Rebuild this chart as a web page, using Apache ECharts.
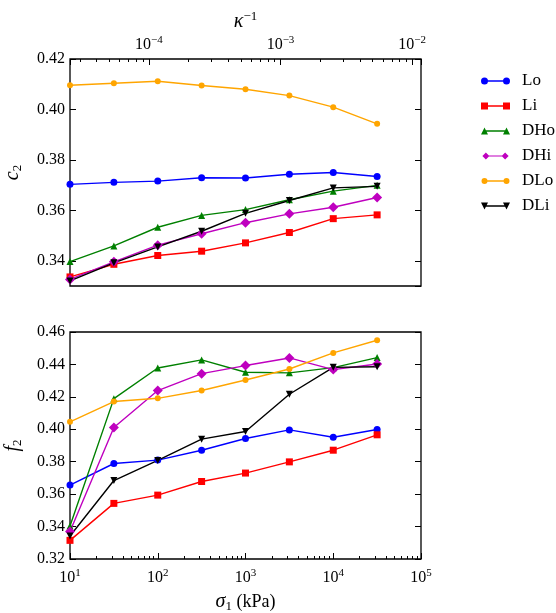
<!DOCTYPE html>
<html>
<head>
<meta charset="utf-8">
<title>c2 f2 vs sigma1</title>
<script src="https://cdn.jsdelivr.net/npm/echarts@6/dist/echarts.min.js"></script>
</head>
<body style="margin:0;background:#fff">
<div id="main" style="width:556px;height:613px"></div>
<script>
// sigma_1 (kPa), same points in both panels
var sigma = [10, 31.62, 100, 316.2, 1000, 3162, 10000, 31620];
var names = ['Lo', 'Li', 'DHo', 'DHi', 'DLo', 'DLi'];

// top panel: c2
var c2Lo  = [0.3703, 0.3711, 0.3716, 0.3729, 0.3728, 0.3743, 0.3750, 0.3734];
var c2Li  = [0.3336, 0.3386, 0.3421, 0.3438, 0.3471, 0.3512, 0.3567, 0.3582];
var c2DHo = [0.3397, 0.3459, 0.3533, 0.3580, 0.3603, 0.3642, 0.3676, 0.3699];
var c2DHi = [0.3326, 0.3396, 0.3462, 0.3507, 0.3551, 0.3586, 0.3612, 0.3651];
var c2DLo = [0.4096, 0.4104, 0.4112, 0.4095, 0.4080, 0.4055, 0.4009, 0.3943];
var c2DLi = [0.3320, 0.3392, 0.3455, 0.3517, 0.3588, 0.3639, 0.3689, 0.3695];

// bottom panel: f2
var f2Lo  = [0.3656, 0.3789, 0.3810, 0.3871, 0.3943, 0.3996, 0.3951, 0.3999];
var f2Li  = [0.3315, 0.3543, 0.3594, 0.3678, 0.3730, 0.3799, 0.3871, 0.3966];
var f2DHo = [0.3403, 0.4189, 0.4378, 0.4428, 0.4352, 0.4348, 0.4380, 0.4442];
var f2DHi = [0.3370, 0.4011, 0.4239, 0.4343, 0.4393, 0.4440, 0.4368, 0.4403];
var f2DLo = [0.4046, 0.4171, 0.4191, 0.4239, 0.4304, 0.4372, 0.4471, 0.4549];
var f2DLi = [0.3342, 0.3684, 0.3808, 0.3939, 0.3986, 0.4216, 0.4382, 0.4386];

// top kappa^-1 axis range (log10 exponents at the panel edges)
var kappaMinExp = -4.599, kappaMaxExp = -1.933;

var c2 = [c2Lo, c2Li, c2DHo, c2DHi, c2DLo, c2DLi];
var f2 = [f2Lo, f2Li, f2DHo, f2DHi, f2DLo, f2DLi];

var colors = ['#0000ff', '#ff0000', '#008000', '#bf00bf', '#ffa500', '#000000'];
var symbols = ['circle', 'rect', 'triangle', 'diamond', 'circle', 'triangle'];
var symSizes = [7, 7, 7, 10, 6, 7];
var symRot = [0, 0, 0, 0, 0, 180];

var LINE = 'M3.5,2.8 L25.5,2.8 L25.5,4.2 L3.5,4.2 Z ';
var legendIcons = [
    'path://M0,3.5 A3.5,3.5 0 1,1 7,3.5 A3.5,3.5 0 1,1 0,3.5 Z ' + LINE + 'M22,3.5 A3.5,3.5 0 1,1 29,3.5 A3.5,3.5 0 1,1 22,3.5 Z',
    'path://M0,0 L7,0 L7,7 L0,7 Z ' + LINE + 'M22,0 L29,0 L29,7 L22,7 Z',
    'path://M3.5,0 L7,7 L0,7 Z ' + LINE + 'M25.5,0 L29,7 L22,7 Z',
    'path://M3.5,-0.5 L7.5,3.5 L3.5,7.5 L-0.5,3.5 Z ' + LINE + 'M25.5,-0.5 L29.5,3.5 L25.5,7.5 L21.5,3.5 Z',
    'path://M0.5,3.5 A3,3 0 1,1 6.5,3.5 A3,3 0 1,1 0.5,3.5 Z M3.5,0 L3.5,0 Z ' + LINE + 'M22.5,3.5 A3,3 0 1,1 28.5,3.5 A3,3 0 1,1 22.5,3.5 Z M25.5,7 L25.5,7 Z',
    'path://M0,0 L7,0 L3.5,7 Z ' + LINE + 'M22,0 L29,0 L25.5,7 Z'
];

var FONT = 'Liberation Serif';
var rich = {
    b: {fontFamily: FONT, fontSize: 16, color: '#000'},
    s: {fontFamily: FONT, fontSize: 11, color: '#000', verticalAlign: 'top', padding: [0, 0, 9, 0]},
    bl: {fontFamily: FONT, fontSize: 18, color: '#000'},
    i: {fontFamily: FONT, fontSize: 20, fontStyle: 'italic', color: '#000'},
    si: {fontFamily: FONT, fontSize: 13, color: '#000', verticalAlign: 'top', padding: [0, 0, 10, 0]},
    sub: {fontFamily: FONT, fontSize: 13, color: '#000', padding: [9, 0, 0, 0]}
};

function powLabel(v) {
    var e = Math.log10(v);
    var r = Math.round(e);
    if (Math.abs(e - r) > 1e-6) return '';
    return '{b|10}{s|' + String(r).replace('-', '\u2212') + '}';
}
function yLabel(v) {
    return '{b|' + v.toFixed(2) + '}';
}

var tick = {show: true, inside: true, length: 6, lineStyle: {color: '#000', width: 1}};
var minor = {show: true, splitNumber: 9, length: 3, lineStyle: {color: '#000', width: 1}};

function pairs(ys) {
    return sigma.map(function (x, i) { return [x, ys[i]]; });
}

var series = [];
[c2, f2].forEach(function (set, g) {
    set.forEach(function (ys, k) {
        series.push({
            name: names[k],
            type: 'line',
            xAxisIndex: g === 0 ? 0 : 2,
            yAxisIndex: g === 0 ? 0 : 2,
            data: pairs(ys),
            symbol: symbols[k],
            symbolSize: symSizes[k],
            symbolRotate: symRot[k],
            showAllSymbol: true,
            color: colors[k],
            lineStyle: {width: 1.4, color: colors[k]},
            itemStyle: {color: colors[k]},
            emphasis: {disabled: true},
            animation: false
        });
    });
});

var chart = echarts.init(document.getElementById('main'));
chart.setOption({
    animation: false,
    backgroundColor: '#fff',
    grid: [
        {left: 70, top: 59, width: 351, height: 227, show: true, borderColor: '#000', borderWidth: 1.3,
         outerBoundsMode: 'none', containLabel: false},
        {left: 70, top: 332, width: 351, height: 227, show: true, borderColor: '#000', borderWidth: 1.3,
         outerBoundsMode: 'none', containLabel: false}
    ],
    legend: {
        orient: 'vertical',
        left: 476,
        top: 67,
        itemWidth: 29,
        itemHeight: 7,
        itemGap: 7,
        data: names.map(function (n, k) { return {name: n, icon: legendIcons[k]}; }),
        textStyle: {fontFamily: FONT, fontSize: 17, lineHeight: 18, color: '#000', padding: [0, 0, 0, 7]}
    },
    xAxis: [
        {   // top panel, sigma scale (hidden)
            type: 'log', logBase: 10, gridIndex: 0, min: 10, max: 100000,
            axisLine: {show: false}, axisTick: {show: false}, axisLabel: {show: false},
            splitLine: {show: false}
        },
        {   // top panel, kappa^-1
            type: 'log', logBase: 10, gridIndex: 0, position: 'top',
            min: Math.pow(10, kappaMinExp), max: Math.pow(10, kappaMaxExp),
            axisLine: {show: false}, axisTick: tick, minorTick: minor,
            axisLabel: {color: '#000', margin: 4, formatter: powLabel, rich: rich},
            splitLine: {show: false}, minorSplitLine: {show: false},
            name: '{i|\u03ba}{si|\u22121}', nameLocation: 'middle', nameGap: 26,
            nameTextStyle: {rich: rich}
        },
        {   // bottom panel, sigma
            type: 'log', logBase: 10, gridIndex: 1, min: 10, max: 100000,
            axisLine: {show: false}, axisTick: tick, minorTick: minor,
            axisLabel: {color: '#000', margin: 9, formatter: powLabel, rich: rich},
            splitLine: {show: false}, minorSplitLine: {show: false},
            name: '{i|\u03c3}{sub|1}{bl| (kPa)}', nameLocation: 'middle', nameGap: 32,
            nameTextStyle: {rich: rich}
        }
    ],
    yAxis: [
        {
            type: 'value', gridIndex: 0, min: 0.33, max: 0.42, splitNumber: 5,
            axisLine: {show: false}, axisTick: tick,
            axisLabel: {color: '#000', margin: 5, showMinLabel: false, formatter: yLabel, rich: rich},
            splitLine: {show: false},
            name: '{i|c}{sub|2}', nameLocation: 'middle', nameRotate: 90, nameGap: 46,
            nameTextStyle: {rich: rich}
        },
        {
            type: 'value', gridIndex: 0, position: 'right', min: 0.33, max: 0.42, splitNumber: 5,
            axisLine: {show: false}, axisTick: tick, axisLabel: {show: false}, splitLine: {show: false}
        },
        {
            type: 'value', gridIndex: 1, min: 0.32, max: 0.46, interval: 0.02,
            axisLine: {show: false}, axisTick: tick,
            axisLabel: {color: '#000', margin: 5, formatter: yLabel, rich: rich},
            splitLine: {show: false},
            name: '{i|f}{sub|2}', nameLocation: 'middle', nameRotate: 90, nameGap: 46,
            nameTextStyle: {rich: rich}
        },
        {
            type: 'value', gridIndex: 1, position: 'right', min: 0.32, max: 0.46, interval: 0.02,
            axisLine: {show: false}, axisTick: tick, axisLabel: {show: false}, splitLine: {show: false}
        }
    ],
    series: series
});
</script>
</body>
</html>
